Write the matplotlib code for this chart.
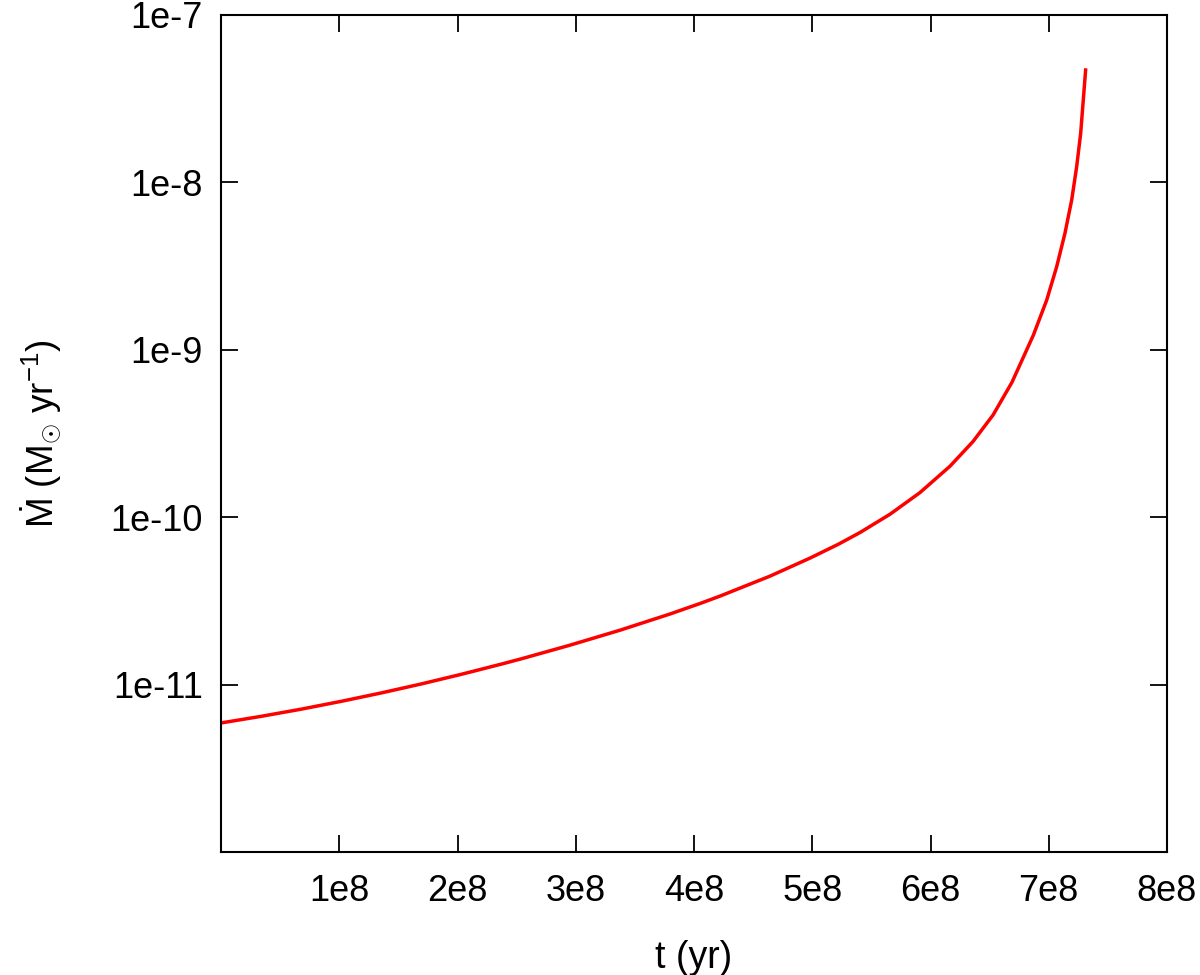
import matplotlib
matplotlib.use("Agg")
import matplotlib.pyplot as plt
from matplotlib.ticker import FixedLocator, NullLocator

plt.rcParams['font.family'] = ['Liberation Sans', 'DejaVu Sans']
plt.rcParams['mathtext.fontset'] = 'custom'
plt.rcParams['mathtext.rm'] = 'Liberation Sans'
plt.rcParams['mathtext.it'] = 'Liberation Sans:italic'
plt.rcParams['mathtext.bf'] = 'Liberation Sans:bold'

# time (yr) and accretion rate (Msun/yr)
t_yr = [0.0, 0.338e8, 0.677e8, 1.015e8, 1.353e8, 1.691e8, 2.030e8, 2.368e8,
        2.537e8, 2.951e8, 3.374e8, 3.797e8, 4.051e8, 4.220e8, 4.643e8,
        4.981e8, 5.218e8, 5.404e8, 5.658e8, 5.911e8, 6.165e8, 6.359e8,
        6.529e8, 6.689e8, 6.869e8, 6.983e8, 7.067e8, 7.137e8, 7.194e8,
        7.236e8, 7.270e8, 7.292e8, 7.313e8]
mdot = [5.90e-12, 6.46e-12, 7.13e-12, 7.94e-12, 8.91e-12, 1.008e-11, 1.151e-11,
        1.324e-11, 1.424e-11, 1.720e-11, 2.113e-11, 2.641e-11, 3.051e-11,
        3.378e-11, 4.447e-11, 5.697e-11, 6.878e-11, 8.100e-11, 1.042e-10,
        1.403e-10, 2.017e-10, 2.829e-10, 4.078e-10, 6.396e-10, 1.219e-9,
        1.984e-9, 3.135e-9, 4.965e-9, 7.850e-9, 1.241e-8, 1.965e-8,
        3.105e-8, 4.804e-8]

x_ticks = [1e8, 2e8, 3e8, 4e8, 5e8, 6e8, 7e8, 8e8]
x_labels = ['1e8', '2e8', '3e8', '4e8', '5e8', '6e8', '7e8', '8e8']
y_ticks = [1e-11, 1e-10, 1e-9, 1e-8, 1e-7]
y_labels = ['1e-11', '1e-10', '1e-9', '1e-8', '1e-7']

fig = plt.figure(figsize=(12, 9.75), dpi=100)
ax = fig.add_axes([221/1200, 1 - 852/975, (1167-221)/1200, (852-15)/975])

ax.plot(t_yr, mdot, color='#ff0000', lw=2.5, solid_joinstyle='round',
        solid_capstyle='butt')

ax.set_yscale('log')
ax.set_xlim(0, 8e8)
ax.set_ylim(1e-12, 1e-7)

ax.xaxis.set_major_locator(FixedLocator(x_ticks))
ax.set_xticklabels(x_labels)
ax.yaxis.set_major_locator(FixedLocator(y_ticks))
ax.set_yticklabels(y_labels)
ax.xaxis.set_minor_locator(NullLocator())
ax.yaxis.set_minor_locator(NullLocator())

ax.tick_params(which='major', direction='in', length=12, width=1.3,
               top=True, right=True, labelsize=26, colors='black')
ax.tick_params(axis='x', pad=16)
ax.tick_params(axis='y', pad=13)
for s in ax.spines.values():
    s.set_linewidth(1.5)

ax.set_xlabel('t (yr)', fontsize=27, labelpad=22)
ax.set_ylabel(r'$\dot{\mathrm{M}}$ ($\mathrm{M}_{\odot}$ yr$^{-1}$)',
              fontsize=26.5, labelpad=34)

fig.savefig('out.png', dpi=100)
